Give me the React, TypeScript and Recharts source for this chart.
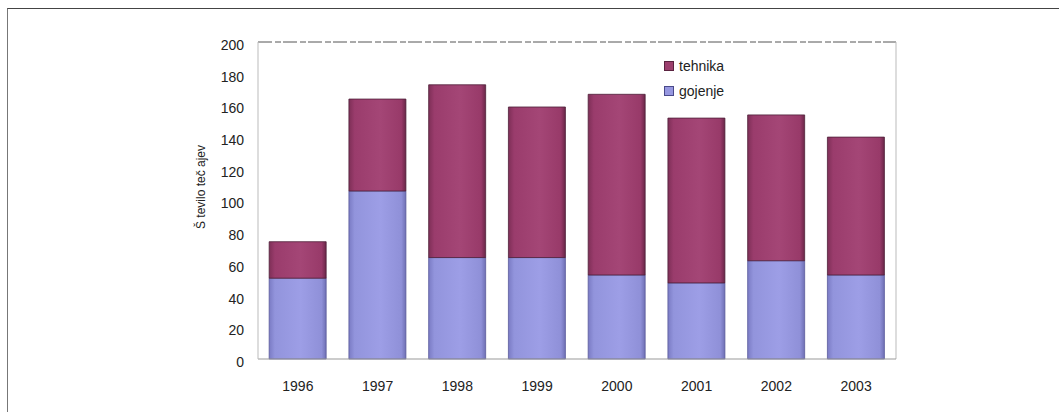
import { BarChart, Bar, XAxis, YAxis, Legend, CartesianGrid } from "recharts";

// ── Data ─────────────────────────────────────────────────────────────

const years = ["1996", "1997", "1998", "1999", "2000", "2001", "2002", "2003"];
const gojenje = [51, 106, 64, 64, 53, 48, 62, 53];
const tehnika = [23, 58, 109, 95, 114, 104, 92, 87];
const yTicks = [0, 20, 40, 60, 80, 100, 120, 140, 160, 180, 200];

const data = years.map((year, i) => ({
  year,
  gojenje: gojenje[i],
  tehnika: tehnika[i],
}));

const FONT = "'Liberation Sans', Arial, sans-serif";

// legend lists the top segment first
const legendItems = [
  { name: "tehnika", fill: "#9c3f6e", stroke: "#5a2340" },
  { name: "gojenje", fill: "#9697e0", stroke: "#4a4a8a" },
];

type GridArgs = { offset: { top: number; left: number; width: number } };

// ── Ticks / labels ───────────────────────────────────────────────────

function YTick(props: { x?: number; y?: number; payload?: { value: number } }) {
  const { x = 0, y = 0, payload } = props;
  return (
    <text
      x={x}
      y={y + 3}
      dy="0.355em"
      textAnchor="end"
      fontSize={14}
      fontFamily={FONT}
      fill="#222"
    >
      {payload?.value}
    </text>
  );
}

function YTitle() {
  return (
    <text
      x={201}
      y={187}
      transform="rotate(-90 201 187)"
      textAnchor="middle"
      dominantBaseline="central"
      fontSize={12}
      fontFamily={FONT}
      fill="#222"
    >
      Š tevilo teč ajev
    </text>
  );
}

function LegendBox() {
  return (
    <div style={{ fontFamily: FONT, fontSize: 14, color: "#222" }}>
      {legendItems.map((it) => (
        <div
          key={it.name}
          style={{ display: "flex", alignItems: "center", height: 25 }}
        >
          <span
            style={{
              display: "inline-block",
              width: 8,
              height: 8,
              background: it.fill,
              border: `1px solid ${it.stroke}`,
              marginRight: 5,
            }}
          />
          {it.name}
        </div>
      ))}
    </div>
  );
}

// ── Chart ────────────────────────────────────────────────────────────

export default function App() {
  return (
    <div
      style={{
        position: "fixed",
        left: 0,
        top: 0,
        width: 1059,
        height: 412,
        background: "#fff",
      }}
    >
      {/* outer frame */}
      <div
        style={{
          position: "absolute",
          left: 7,
          top: 8,
          width: 1052,
          height: 403,
          borderTop: "1px solid #444",
          borderLeft: "1px solid #777",
        }}
      />
      <BarChart
        width={1059}
        height={412}
        data={data}
        margin={{ top: 42, right: 163, bottom: 23, left: 198 }}
        barCategoryGap="14%"
      >
        <defs>
          <linearGradient id="gradTeh" x1="0" y1="0" x2="1" y2="0">
            <stop offset="0%" stopColor="#7e2f57" />
            <stop offset="10%" stopColor="#9a3c6c" />
            <stop offset="55%" stopColor="#a44676" />
            <stop offset="92%" stopColor="#983a69" />
            <stop offset="100%" stopColor="#6a2748" />
          </linearGradient>
          <linearGradient id="gradGoj" x1="0" y1="0" x2="1" y2="0">
            <stop offset="0%" stopColor="#7a7bc4" />
            <stop offset="10%" stopColor="#9294dc" />
            <stop offset="55%" stopColor="#9d9ee6" />
            <stop offset="92%" stopColor="#8f90d8" />
            <stop offset="100%" stopColor="#6f70b4" />
          </linearGradient>
        </defs>

        {/* plot frame: dashed top edge, light right edge */}
        <CartesianGrid
          vertical={false}
          stroke="#555"
          strokeDasharray="14 3 6 2"
          horizontalCoordinatesGenerator={({ offset }: GridArgs) => [offset.top]}
        />
        <CartesianGrid
          horizontal={false}
          stroke="#bbb"
          verticalCoordinatesGenerator={({ offset }: GridArgs) => [
            offset.left + offset.width,
          ]}
        />

        <XAxis
          dataKey="year"
          tickLine={false}
          tickSize={6}
          tickMargin={16}
          height={30}
          axisLine={{ stroke: "#999" }}
          tick={{ fontSize: 14, fontFamily: FONT, fill: "#222" }}
        />
        <YAxis
          domain={[0, 200]}
          ticks={yTicks}
          interval={0}
          width={60}
          tickLine={false}
          tickMargin={8}
          axisLine={{ stroke: "#bbb" }}
          tick={<YTick />}
          label={<YTitle />}
        />

        {/* vertical + centered legend keeps the plot area from shrinking */}
        <Legend
          layout="vertical"
          align="center"
          verticalAlign="middle"
          content={<LegendBox />}
          wrapperStyle={{ position: "absolute", left: 664, top: 53, width: 90 }}
        />

        <Bar
          dataKey="gojenje"
          stackId="a"
          fill="url(#gradGoj)"
          stroke="#5a5a9c"
          strokeWidth={0.8}
          isAnimationActive={false}
        />
        <Bar
          dataKey="tehnika"
          stackId="a"
          fill="url(#gradTeh)"
          stroke="#4e1f38"
          strokeWidth={0.8}
          isAnimationActive={false}
        />
      </BarChart>
    </div>
  );
}
